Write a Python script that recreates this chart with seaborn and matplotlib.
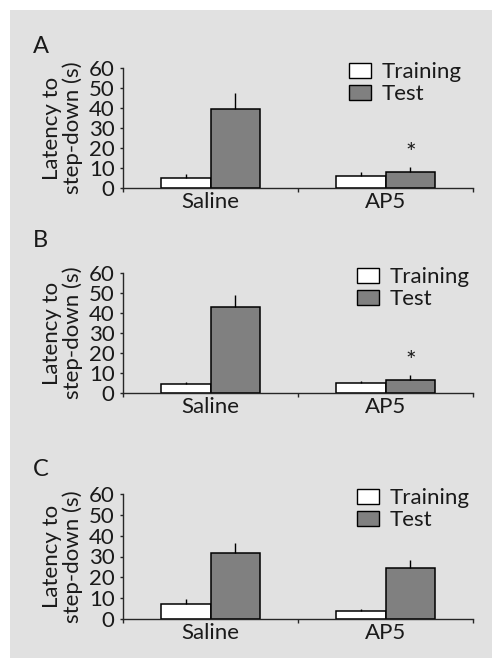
import matplotlib
matplotlib.use("Agg")
import matplotlib.pyplot as plt
import matplotlib.patches as mpatches
import seaborn as sns
import pandas as pd
import numpy as np

# ------------------------------------------------------------
# Données
# ------------------------------------------------------------
groups = ["Saline", "AP5"]
phases = ["Training", "Test"]
panel_labels = ["A", "B", "C"]

train_mean = [[4.8, 6.0], [4.7, 4.8], [7.4, 3.9]]
train_err = [[2.3, 2.0], [1.0, 1.4], [2.1, 1.1]]
test_mean = [[39.6, 8.0], [43.0, 6.7], [31.6, 24.7]]
test_err = [[8.1, 2.3], [6.2, 2.3], [4.8, 3.4]]
stars = [[False, True], [False, True], [False, False]]

yticks = [0, 10, 20, 30, 40, 50, 60]

# ------------------------------------------------------------
# Style
# ------------------------------------------------------------
sns.set_style("ticks")
plt.rcParams["font.family"] = ["Lato", "DejaVu Sans"]
plt.rcParams["font.weight"] = "normal"

BG = "#e1e1e1"
TXT = "#1a1a1a"
W, H = 492, 658
FS = 16

fig = plt.figure(figsize=(W / 100, H / 100), dpi=100)
fig.patch.set_facecolor("white")
fig.patches.append(mpatches.Rectangle((10 / W, 0), 1 - 10 / W, 1 - 10 / H,
                                      transform=fig.transFigure,
                                      facecolor=BG, edgecolor="none", zorder=-5))

# positions en pixels : (haut de l'axe, bas de l'axe, x légende, ligne de base lettre)
axes_px = [(68, 188, 349, 53), (273, 393, 357, 247), (494, 619, 357, 476)]
x0, x1 = 123, 473

for i, (top, bottom, leg_x, let_y) in enumerate(axes_px):
    ax = fig.add_axes([x0 / W, 1 - bottom / H, (x1 - x0) / W, (bottom - top) / H])
    ax.set_facecolor("none")

    df = pd.DataFrame({
        "groupe": groups * 2,
        "phase": ["Training"] * 2 + ["Test"] * 2,
        "latence": train_mean[i] + test_mean[i],
        "err": train_err[i] + test_err[i],
    })

    sns.barplot(data=df, x="groupe", y="latence", hue="phase",
                order=groups, hue_order=phases,
                palette={"Training": "white", "Test": "#808080"},
                edgecolor="black", linewidth=1.1, width=0.57,
                errorbar=None, legend=False, ax=ax)

    # barres d'erreur (vers le haut seulement)
    for j, ph in enumerate(phases):
        sub = df[df["phase"] == ph]
        cont = ax.containers[j]
        xs = [p.get_x() + p.get_width() / 2 for p in cont.patches]
        ax.errorbar(xs, sub["latence"], yerr=[np.zeros(2), sub["err"]],
                    fmt="none", ecolor="black", elinewidth=1.0, capsize=0,
                    zorder=1)
        if ph == "Test":
            for k in range(2):
                if stars[i][k]:
                    ax.text(xs[k], sub["latence"].iloc[k] + sub["err"].iloc[k] + 1.0,
                            "*", ha="center", va="bottom", fontsize=18,
                            color=TXT)

    ax.set_xlim(-0.5, 1.5)
    ax.set_ylim(0, 60)
    ax.set_yticks(yticks)
    ax.set_xticks([-0.5, 0.5, 1.5], minor=True)
    ax.tick_params(axis="x", which="major", length=0, labelsize=FS, pad=3,
                   labelcolor=TXT)
    ax.tick_params(axis="x", which="minor", length=3, width=1)
    ax.tick_params(axis="y", length=2, width=1, labelsize=FS, pad=4,
                   labelcolor=TXT)
    sns.despine(ax=ax)
    for s in ["left", "bottom"]:
        ax.spines[s].set_linewidth(1.0)
    ax.set_xlabel("")
    ax.set_ylabel("Latency to\nstep-down (s)", fontsize=FS, linespacing=1.05,
                  labelpad=4, color=TXT)

    handles = [mpatches.Patch(facecolor="white", edgecolor="black", label="Training"),
               mpatches.Patch(facecolor="#808080", edgecolor="black", label="Test")]
    leg = ax.legend(handles=handles, loc="upper left",
                    bbox_to_anchor=(leg_x / W, 1 - (top - 6) / H),
                    bbox_transform=fig.transFigure,
                    frameon=False, fontsize=FS, handlelength=1.0,
                    handleheight=0.68, handletextpad=0.45, labelspacing=0.1,
                    borderaxespad=0, borderpad=0)
    for t in leg.get_texts():
        t.set_color(TXT)

    fig.text(33 / W, 1 - let_y / H, panel_labels[i], fontsize=17,
             ha="left", va="baseline", color=TXT)

fig.savefig("out.png", dpi=100, facecolor=fig.get_facecolor())
